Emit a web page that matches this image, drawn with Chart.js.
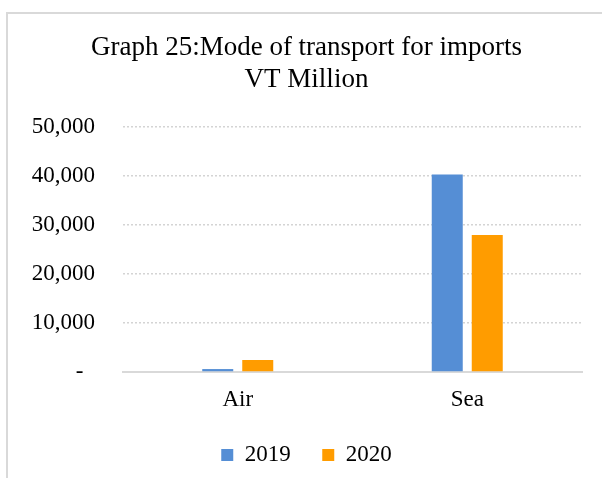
<!DOCTYPE html>
<html>
<head>
<meta charset="utf-8">
<script src="https://cdn.jsdelivr.net/npm/chart.js@4"></script>
<style>
  html, body { margin: 0; padding: 0; background: #fff; overflow: hidden; }
  #wrap { position: relative; width: 602px; height: 478px; }
  #frame { position: absolute; left: 6px; top: 12px; width: 700px; height: 700px;
           border-left: 2px solid #d9d9d9; border-top: 2px solid #d9d9d9; pointer-events: none; }
  canvas { position: absolute; left: 0; top: 0; }
</style>
</head>
<body>
<div id="wrap">
  <canvas id="c" width="602" height="478"></canvas>
  <div id="frame"></div>
</div>
<script>
const titleLines = ['Graph 25:Mode of transport for imports', 'VT Million'];
const categories = ['Air', 'Sea'];
const seriesNames = ['2019', '2020'];
const values2019 = [600, 40300];
const values2020 = [2450, 27950];
const yTickValues = [0, 10000, 20000, 30000, 40000, 50000];
const yTickLabels = ['-  ', '10,000', '20,000', '30,000', '40,000', '50,000'];
const seriesColors = ['#558ED5', '#FF9C00'];

const FONT = "'Liberation Serif', 'Times New Roman', serif";
Chart.defaults.font.family = FONT;
Chart.defaults.font.size = 23;
Chart.defaults.color = '#000';

new Chart(document.getElementById('c'), {
  type: 'bar',
  data: {
    labels: categories,
    datasets: [
      { label: seriesNames[0], data: values2019, backgroundColor: seriesColors[0], borderWidth: 0,
        categoryPercentage: 0.3486, barPercentage: 0.775 },
      { label: seriesNames[1], data: values2020, backgroundColor: seriesColors[1], borderWidth: 0,
        categoryPercentage: 0.3486, barPercentage: 0.775 }
    ]
  },
  options: {
    responsive: false,
    devicePixelRatio: 1,
    animation: false,
    layout: { padding: { left: 31, right: 20, top: 0, bottom: 1.5 } },
    plugins: {
      title: {
        display: true,
        text: titleLines,
        color: '#000',
        font: { family: FONT, size: 27, weight: 'normal', lineHeight: 1.2 },
        padding: { top: 31.6, bottom: 30.6 }
      },
      legend: {
        display: true,
        position: 'bottom',
        labels: {
          color: '#000',
          font: { family: FONT, size: 23, weight: 'normal' },
          boxWidth: 12,
          boxHeight: 12,
          padding: 31.5
        }
      },
      tooltip: { enabled: false }
    },
    scales: {
      x: {
        grid: { display: false, drawTicks: false },
        border: { display: true, color: '#d9d9d9', width: 2 },
        ticks: { color: '#000', font: { family: FONT, size: 23 }, padding: 14.4 },
        afterFit: (s) => { s.height = 40; }
      },
      y: {
        min: 0,
        max: 50000,
        afterBuildTicks: (s) => { s.ticks = yTickValues.map(v => ({ value: v })); },
        grid: { color: '#d4d4d4', lineWidth: 1.5, drawTicks: false },
        border: { display: false, dash: [2, 2] },
        ticks: {
          color: '#000',
          font: { family: FONT, size: 23 },
          padding: 28,
          callback: (v, i) => yTickLabels[yTickValues.indexOf(v)]
        },
        afterFit: (s) => { s.width = 92; }
      }
    }
  }
});
</script>
</body>
</html>
